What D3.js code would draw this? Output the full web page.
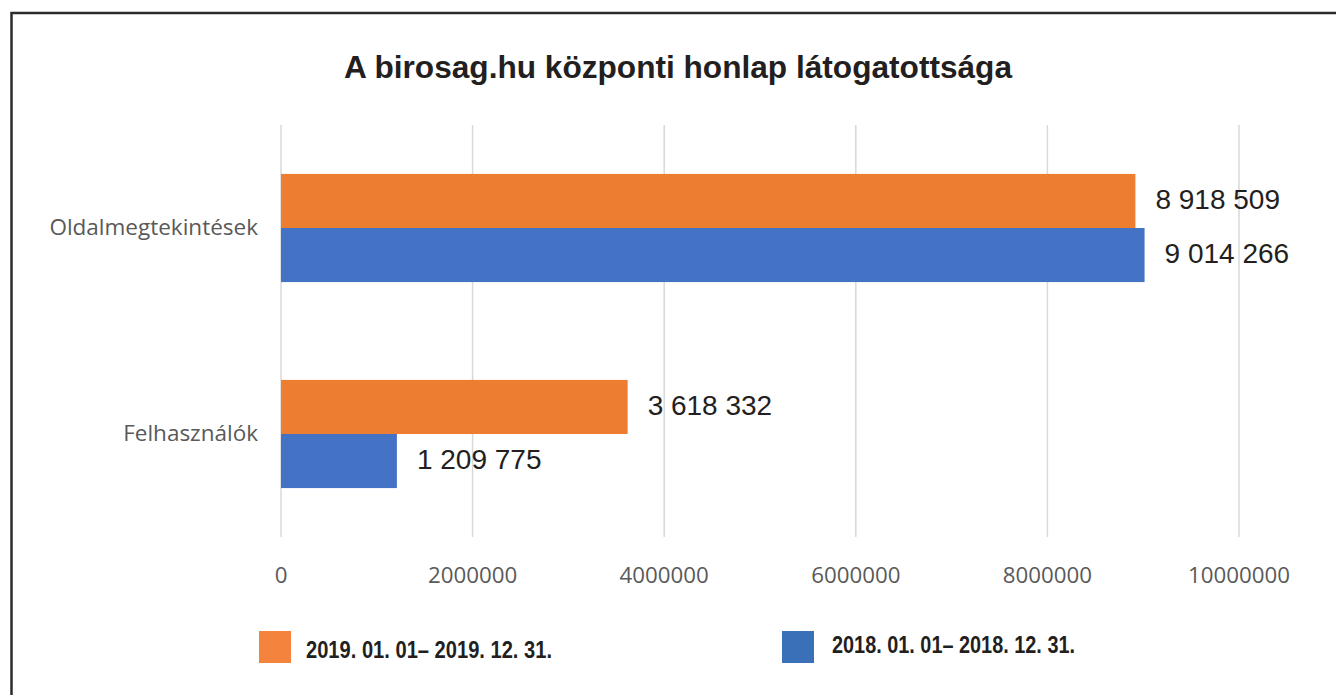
<!DOCTYPE html>
<html>
<head>
<meta charset="utf-8">
<script src="https://cdn.jsdelivr.net/npm/d3@7"></script>
<style>
  body { margin: 0; background: #fff; }
  svg { display: block; }
</style>
</head>
<body>
<svg id="chart"></svg>
<script>
var categories = ['Oldalmegtekintések', 'Felhasználók'];
var seriesNames = ['2019. 01. 01– 2019. 12. 31.', '2018. 01. 01– 2018. 12. 31.'];
var seriesColors = ['#ed7d31', '#4472c4'];
var values2019 = [8918509, 3618332];
var values2018 = [9014266, 1209775];
var valueLabels2019 = ['8 918 509', '3 618 332'];
var valueLabels2018 = ['9 014 266', '1 209 775'];
var xTicks = [0, 2000000, 4000000, 6000000, 8000000, 10000000];

var svg = d3.select('#chart').attr('width', 1336).attr('height', 695);

// frame (runs off right and bottom edges)
svg.append('rect')
  .attr('x', 11.5).attr('y', 13)
  .attr('width', 1400).attr('height', 800)
  .attr('fill', 'none')
  .attr('stroke', '#2b2b2b')
  .attr('stroke-width', 2.5);

svg.append('text')
  .attr('x', 344).attr('y', 78)
  .attr('textLength', 668)
  .attr('lengthAdjust', 'spacingAndGlyphs')
  .style('font-family', '"Liberation Sans", Arial, sans-serif')
  .style('font-weight', 'bold')
  .style('font-size', '32px')
  .attr('fill', '#231f20')
  .text('A birosag.hu központi honlap látogatottsága');

var plot = { left: 281, right: 1239, top: 125, bottom: 537 };

var x = d3.scaleLinear()
  .domain([0, 10000000])
  .range([plot.left, plot.right]);

var y = d3.scaleBand()
  .domain(categories)
  .range([plot.top, plot.bottom])
  .paddingInner(0.475)
  .paddingOuter(0.2375);

var inner = d3.scaleBand()
  .domain([0, 1])
  .range([0, y.bandwidth()]);

// gridlines
svg.append('g').selectAll('line')
  .data(xTicks).enter()
  .append('line')
  .attr('x1', function(d) { return x(d); })
  .attr('x2', function(d) { return x(d); })
  .attr('y1', plot.top)
  .attr('y2', plot.bottom)
  .attr('stroke', '#d9d9d9')
  .attr('stroke-width', 1.5);

// tick labels
svg.append('g').selectAll('text')
  .data(xTicks).enter()
  .append('text')
  .attr('x', function(d) { return x(d); })
  .attr('y', 583)
  .attr('text-anchor', 'middle')
  .style('font-family', '"Open Sans", sans-serif')
  .style('font-size', '22.3px')
  .attr('fill', '#595959')
  .text(function(d) { return d; });

// category labels
svg.append('g').selectAll('text')
  .data(categories).enter()
  .append('text')
  .attr('x', 258)
  .attr('y', function(d) { return y(d) + y.bandwidth() / 2; })
  .attr('dy', '0.33em')
  .attr('text-anchor', 'end')
  .style('font-family', '"Open Sans", sans-serif')
  .style('font-size', '22.5px')
  .attr('fill', '#595959')
  .text(function(d) { return d; });

var series = [values2019, values2018];
var labels = [valueLabels2019, valueLabels2018];

series.forEach(function(vals, s) {
  var g = svg.append('g');
  g.selectAll('rect')
    .data(vals).enter()
    .append('rect')
    .attr('x', x(0))
    .attr('y', function(d, i) { return y(categories[i]) + inner(s); })
    .attr('width', function(d) { return x(d) - x(0); })
    .attr('height', inner.bandwidth())
    .attr('fill', seriesColors[s]);

  g.selectAll('text')
    .data(vals).enter()
    .append('text')
    .attr('x', function(d) { return x(d) + 20; })
    .attr('y', function(d, i) { return y(categories[i]) + inner(s) + inner.bandwidth() / 2; })
    .attr('dy', '0.28em')
    .style('font-family', '"Liberation Sans", Arial, sans-serif')
    .style('font-size', '28px')
    .attr('fill', '#231f20')
    .text(function(d, i) { return labels[s][i]; });
});

// legend
var legendX = [259, 782];
var legend = svg.append('g').selectAll('g')
  .data(seriesNames).enter()
  .append('g')
  .attr('transform', function(d, i) { return 'translate(' + legendX[i] + ',631)'; });

legend.append('rect')
  .attr('width', 32).attr('height', 32)
  .attr('fill', function(d, i) { return i === 0 ? '#f4843d' : '#3a70b8'; });

legend.append('text')
  .attr('x', function(d, i) { return i === 0 ? 47 : 50; })
  .attr('y', function(d, i) { return i === 0 ? 27 : 22; })
  .attr('textLength', function(d, i) { return i === 0 ? 246 : 243; })
  .attr('lengthAdjust', 'spacingAndGlyphs')
  .style('font-family', '"Liberation Sans Narrow", "Liberation Sans", Arial, sans-serif')
  .style('font-weight', 'bold')
  .style('font-size', '23px')
  .attr('fill', '#231f20')
  .text(function(d) { return d; });
</script>
</body>
</html>
